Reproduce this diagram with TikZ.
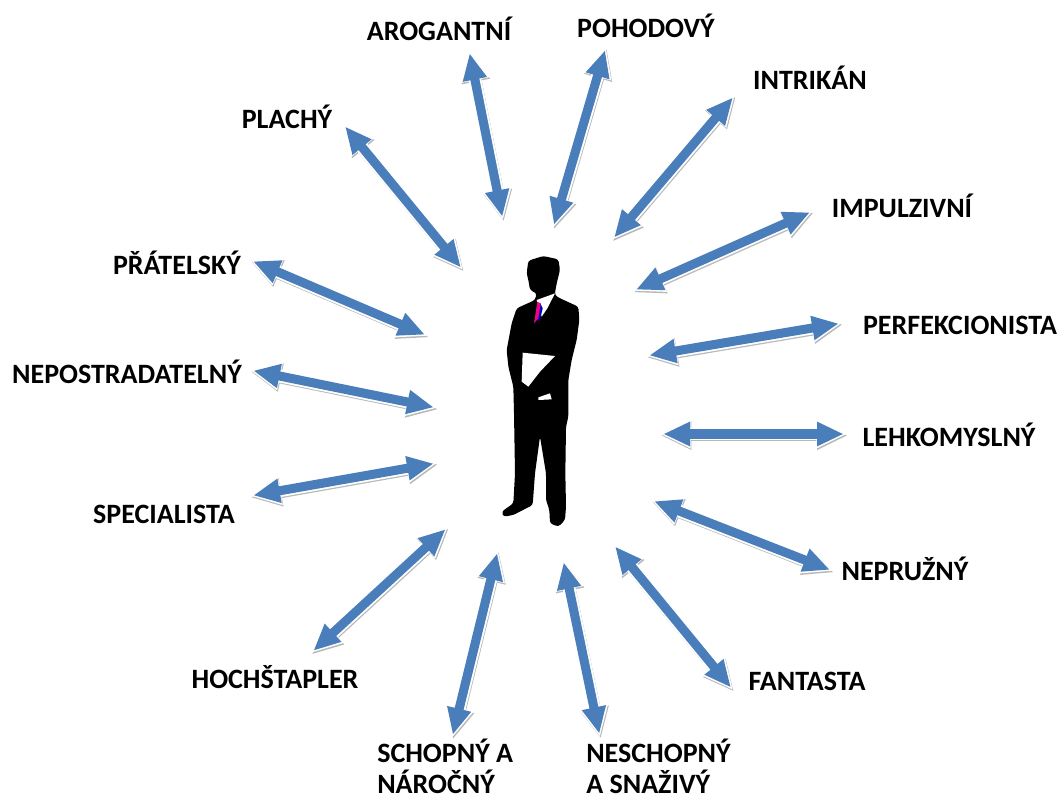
\documentclass[tikz,border=0pt]{standalone}
\usepackage{fontspec}
\setmainfont{Carlito}
\usetikzlibrary{arrows.meta}
\definecolor{linkblue}{HTML}{4A7EBB}
\begin{document}
\begin{tikzpicture}[
  x=0.75pt, y=-0.75pt,
  trait/.style={inner sep=0pt, align=left, font=\fontsize{21}{23.5}\selectfont\bfseries},
  link/.style={line width=6.8pt, draw=linkblue, shorten >=2.5pt, shorten <=2.5pt, {Triangle[length=20pt,width=17pt,fill=linkblue]}-{Triangle[length=20pt,width=17pt,fill=linkblue]}},
  linkhalo/.style={line width=9.5pt, draw=white, {Triangle[length=23pt,width=20pt,fill=white]}-{Triangle[length=23pt,width=20pt,fill=white]}},
  linkshadow/.style={line width=9pt, draw=black!28, transform canvas={shift={(0.6pt,-1.1pt)}}, {Triangle[length=23pt,width=20pt,fill=black!28]}-{Triangle[length=23pt,width=20pt,fill=black!28]}}
]
  \useasboundingbox (0,0) rectangle (1062,800);
  % Traits round the figure
  \node[trait] (arogantni) at (439,29) {AROGANTNÍ};
  \node[trait] (pohodovy) at (646,26) {POHODOVÝ};
  \node[trait] (intrikan) at (810,78) {INTRIKÁN};
  \node[trait] (impulzivni) at (902,206) {IMPULZIVNÍ};
  \node[trait] (perfekcionista) at (960,325) {PERFEKCIONISTA};
  \node[trait] (lehkomyslny) at (949,435) {LEHKOMYSLNÝ};
  \node[trait] (nepruzny) at (905,569) {NEPRUŽNÝ};
  \node[trait] (fantasta) at (807,681) {FANTASTA};
  \node[trait, anchor=west] (neschopny) at (586,766) {NESCHOPNÝ\\A SNAŽIVÝ};
  \node[trait, anchor=west] (schopny) at (377,766) {SCHOPNÝ A\\NÁROČNÝ};
  \node[trait] (hochstapler) at (275,677) {HOCHŠTAPLER};
  \node[trait] (specialista) at (164,514) {SPECIALISTA};
  \node[trait] (nepostradatelny) at (127,372) {NEPOSTRADATELNÝ};
  \node[trait] (pratelsky) at (177,263) {PŘÁTELSKÝ};
  \node[trait] (plachy) at (287,117) {PLACHÝ};
  % Arrow ends
  \coordinate (a1) at (469,50);    \coordinate (b1) at (503,220);
  \coordinate (a2) at (606,47);    \coordinate (b2) at (553,228);
  \coordinate (a3) at (735,95);    \coordinate (b3) at (612,240);
  \coordinate (a4) at (813,211);   \coordinate (b4) at (633,291);
  \coordinate (a5) at (842,323);   \coordinate (b5) at (646,356);
  \coordinate (a6) at (847,434);   \coordinate (b6) at (660,434);
  \coordinate (a7) at (833,571);   \coordinate (b7) at (651,500);
  \coordinate (a8) at (733,690);   \coordinate (b8) at (613,544);
  \coordinate (a9) at (600,737);   \coordinate (b9) at (563,559);
  \coordinate (a10) at (452,738);  \coordinate (b10) at (498,550);
  \coordinate (a11) at (311,653);  \coordinate (b11) at (448,527);
  \coordinate (a12) at (250,496);  \coordinate (b12) at (437,463);
  \coordinate (a13) at (250,370);  \coordinate (b13) at (437,408);
  \coordinate (a14) at (250,260);  \coordinate (b14) at (428,336);
  \coordinate (a15) at (343,124);  \coordinate (b15) at (463,270);
  \foreach \i in {1,...,15} {
    \draw[linkshadow] (a\i) -- (b\i);
    \draw[linkhalo] (a\i) -- (b\i);
    \draw[link] (a\i) -- (b\i);
  }
  % Figure
  \begin{scope}[shift={(460,240)}, x=0.25pt, y=-0.25pt]
    \fill[black, rounded corners=2pt] (205,62) -- (250,48) -- (295,58) -- (300,90) -- (290,130) -- (284,165)
      -- (300,175) -- (355,200) -- (358,240) -- (350,300) -- (335,360) -- (325,420)
      -- (325,530) -- (318,560) -- (316,700) -- (318,800) -- (315,840) -- (295,860)
      -- (270,850) -- (268,810) -- (258,780) -- (258,700) -- (240,590) -- (225,700)
      -- (218,795) -- (160,825) -- (130,830) -- (125,815) -- (160,790) -- (165,700)
      -- (162,520) -- (160,440) -- (145,380) -- (140,330) -- (155,250) -- (170,205)
      -- (225,180) -- (230,160) -- (210,150) -- (205,120) -- (200,100) -- cycle;
    \fill[white] (188,338) -- (285,348) -- (240,395) -- (205,440) -- (185,425) -- cycle;
    \fill[white] (235,472) -- (270,460) -- (275,478) -- (235,480) -- cycle;
    \fill[white] (230,180) -- (285,160) -- (262,205) -- (245,230) -- cycle;
    \fill[blue!70!black] (240,188) -- (248,205) -- (240,240) -- (232,240) -- cycle;
    \fill[magenta] (232,185) -- (242,190) -- (235,235) -- (222,250) -- cycle;
  \end{scope}
\end{tikzpicture}
\end{document}
